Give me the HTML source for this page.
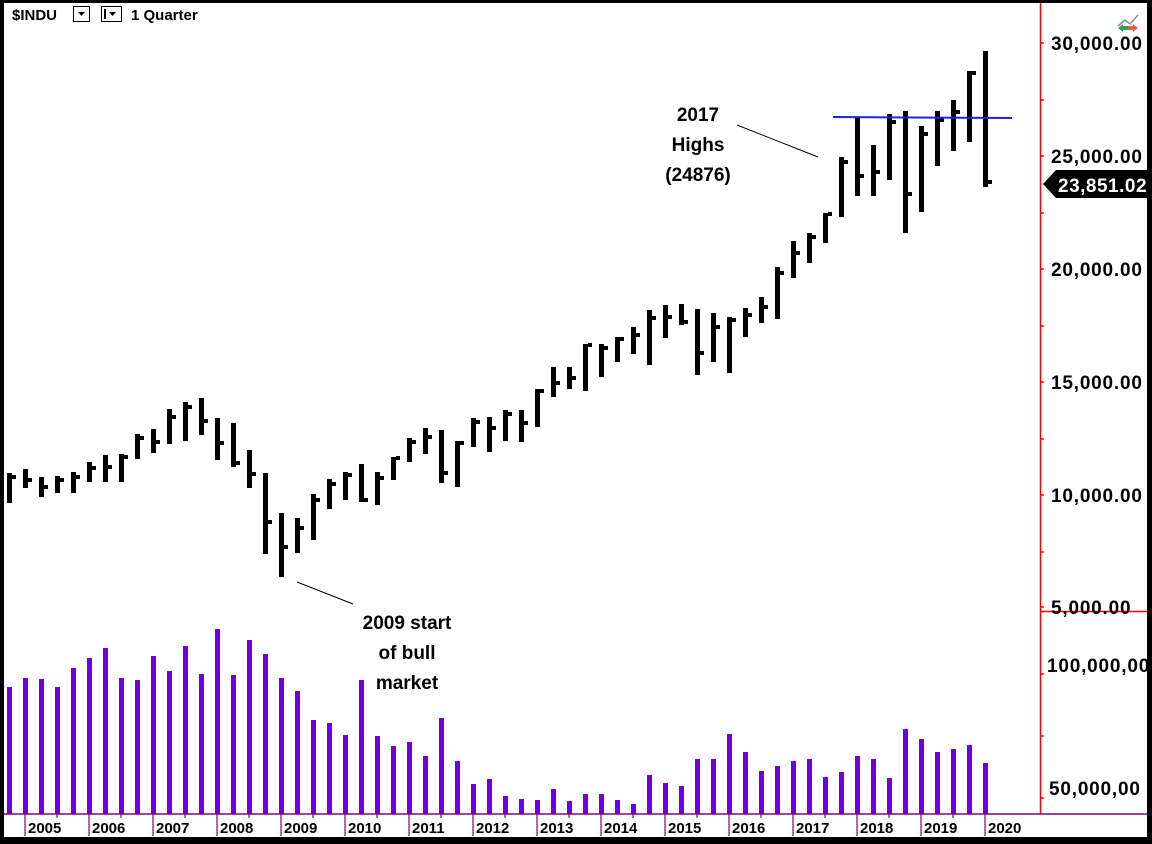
<!DOCTYPE html>
<html><head><meta charset="utf-8"><style>
html,body{margin:0;padding:0;background:#fff;}
svg{display:block;}
text{font-family:"Liberation Sans",Arial,sans-serif;}
</style></head><body>
<svg id="c" width="1152" height="844" xmlns="http://www.w3.org/2000/svg">
<rect x="0" y="0" width="1152" height="844" fill="#fff"/>
<g id="bars"></g>
<g id="vols"></g>
<line x1="1040.5" y1="0" x2="1040.5" y2="814" stroke="#f00" stroke-width="1.5"/>
<line x1="1040" y1="611.5" x2="1152" y2="611.5" stroke="#f00" stroke-width="1.5"/>
<g stroke="#f00" stroke-width="1.5">
<line x1="1040" y1="43" x2="1044" y2="43"/><line x1="1040" y1="100" x2="1044" y2="100"/>
<line x1="1040" y1="156" x2="1044" y2="156"/><line x1="1040" y1="213" x2="1044" y2="213"/>
<line x1="1040" y1="269" x2="1044" y2="269"/><line x1="1040" y1="326" x2="1044" y2="326"/>
<line x1="1040" y1="382" x2="1044" y2="382"/><line x1="1040" y1="439" x2="1044" y2="439"/>
<line x1="1040" y1="495" x2="1044" y2="495"/><line x1="1040" y1="552" x2="1044" y2="552"/>
<line x1="1040" y1="607" x2="1044" y2="607"/>
<line x1="1040" y1="674" x2="1044" y2="674"/><line x1="1040" y1="736" x2="1044" y2="736"/><line x1="1040" y1="798" x2="1044" y2="798"/>
</g>
<g font-size="19" font-weight="bold" fill="#000" letter-spacing="0.8">
<text x="1051" y="50">30,000.00</text>
<text x="1051" y="163">25,000.00</text>
<text x="1051" y="276">20,000.00</text>
<text x="1051" y="389">15,000.00</text>
<text x="1051" y="502">10,000.00</text>
<text x="1051" y="614">5,000.00</text>
<text x="1047" y="672">100,000,00</text>
<text x="1049" y="795">50,000,00</text>
</g>
<polygon points="1043,184 1056,170 1148,170 1148,198 1056,198" fill="#000"/>
<text x="1058" y="192" font-size="19" font-weight="bold" fill="#fff" letter-spacing="0.5">23,851.02</text>
<line x1="0" y1="814" x2="1152" y2="814" stroke="#800080" stroke-width="1.5"/>
<g id="xt" stroke="#800080" stroke-width="1.2"></g>
<g id="xl" font-size="15" font-weight="bold" fill="#000"></g>
<line x1="833" y1="117" x2="1012" y2="118" stroke="#2020e0" stroke-width="2"/>
<g font-family="'DejaVu Sans','Liberation Sans',sans-serif" font-size="19" font-weight="bold" fill="#000" text-anchor="middle">
<text x="698" y="121">2017</text>
<text x="698" y="151">Highs</text>
<text x="698" y="181">(24876)</text>
<text x="407" y="629">2009 start</text>
<text x="407" y="659">of bull</text>
<text x="407" y="689">market</text>
</g>
<line x1="737" y1="125" x2="818" y2="157" stroke="#000" stroke-width="1"/>
<line x1="297" y1="582" x2="353" y2="604" stroke="#000" stroke-width="1"/>
<text x="12" y="20" font-size="15" font-weight="bold">$INDU</text>
<rect x="73.5" y="6.5" width="16" height="15" fill="#fff" stroke="#000"/>
<polygon points="78,12 85,12 81.5,16" fill="#000"/>
<rect x="101.5" y="6.5" width="20" height="15" fill="#fff" stroke="#000"/>
<rect x="104" y="9" width="2" height="10" fill="#000"/>
<polygon points="109,12 116,12 112.5,16" fill="#000"/>
<text x="131" y="20" font-size="15" font-weight="bold">1 Quarter</text>
<polyline points="1118,26 1125,20 1130,24 1138,15" fill="none" stroke="#8090b0" stroke-width="1.5"/>
<polygon points="1118,28 1123,24 1123,32" fill="#30a050"/><rect x="1123" y="26" width="5" height="4" fill="#30a050"/>
<polygon points="1138,28 1133,24 1133,32" fill="#e06040"/><rect x="1128" y="26" width="5" height="4" fill="#e06040"/>
<rect x="0" y="0" width="1152" height="3" fill="#000"/>
<rect x="0" y="0" width="4" height="844" fill="#000"/>
<rect x="1147" y="0" width="5" height="844" fill="#000"/>
<rect x="0" y="837" width="1152" height="7" fill="#000"/>
</svg>
<script>
var ns="http://www.w3.org/2000/svg";
function r(g,x,y,w,h,f){var e=document.createElementNS(ns,"rect");e.setAttribute("x",x);e.setAttribute("y",y);e.setAttribute("width",w);e.setAttribute("height",h);e.setAttribute("fill",f);g.appendChild(e);}
var B=[[473,503,477],[469,488,480],[477,497,487],[476,493,480],[472,493,477],[462,482,468],[455,482,467],[454,482,457],[434,459,438],[429,453,442],[409,444,417],[402,441,407],[398,435,421],[418,460,443],[423,467,463],[450,488,474],[473,554,522],[513,577,547],[518,553,528],[494,540,500],[479,509,484],[472,500,475],[464,502,500],[472,505,478],[457,480,458],[438,462,442],[428,454,437],[430,483,473],[441,487,443],[418,447,422],[417,452,428],[410,441,414],[410,442,423],[389,427,391],[367,397,383],[367,389,378],[344,391,345],[344,377,348],[337,362,339],[327,354,335],[310,365,318],[305,338,317],[304,325,322],[309,375,353],[313,362,327],[317,373,320],[308,337,315],[297,323,307],[267,319,273],[241,278,253],[233,263,237],[213,243,214],[157,217,162],[117,196,176],[145,196,172],[114,180,122],[111,233,194],[126,212,134],[111,166,120],[100,151,112],[71,142,73],[51,187,182]];
var V=[687,678,679,687,668,658,648,678,680,656,671,646,674,629,675,640,654,678,691,720,723,735,680,736,746,742,756,718,761,784,779,796,799,800,789,801,794,794,800,804,775,783,786,759,759,734,752,771,766,761,759,777,772,756,759,778,729,739,752,749,745,763];
var gb=document.getElementById("bars"),gv=document.getElementById("vols");
for(var i=0;i<B.length;i++){var x=9+16*i;var b=B[i];
r(gb,x-2,b[0],5,b[1]-b[0],"#000");r(gb,x+3,b[2]-2,4,4,"#000");
r(gv,x-2,V[i],5,814-V[i],"#7000e0");}
var gt=document.getElementById("xt"),gl=document.getElementById("xl");
for(var k=0;k<16;k++){var x=25+64*k;
var l=document.createElementNS(ns,"line");l.setAttribute("x1",x);l.setAttribute("x2",x);l.setAttribute("y1",814);l.setAttribute("y2",836);gt.appendChild(l);
var m=document.createElementNS(ns,"line");m.setAttribute("x1",x-32);m.setAttribute("x2",x-32);m.setAttribute("y1",814);m.setAttribute("y2",818);gt.appendChild(m);
var t=document.createElementNS(ns,"text");t.setAttribute("x",x+3);t.setAttribute("y",833);t.textContent=String(2005+k);gl.appendChild(t);}
</script>
</body></html>
